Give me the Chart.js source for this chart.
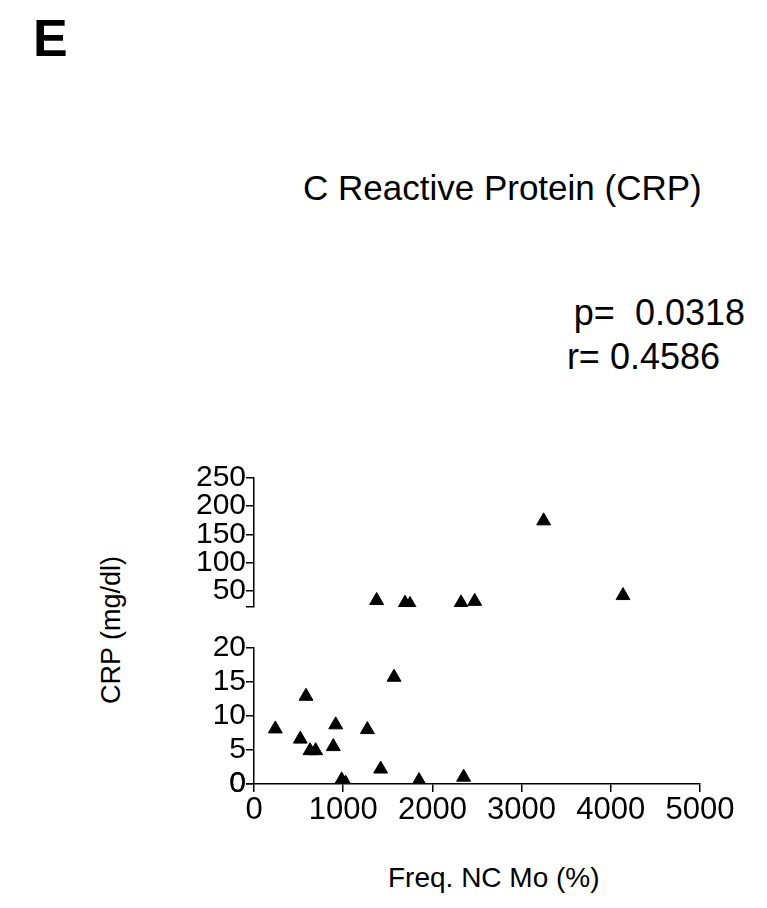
<!DOCTYPE html>
<html><head><meta charset="utf-8">
<script src="https://cdn.jsdelivr.net/npm/chart.js@4"></script>
<style>
body{margin:0;width:767px;height:908px;position:relative;background:#fff;font-family:"Liberation Sans",Arial,sans-serif;color:#000;overflow:hidden}
.t{position:absolute;white-space:nowrap}
.box{position:absolute;left:0;width:767px}
</style></head><body>
<div class="t" style="left:33px;top:8px;font-size:52px;font-weight:bold">E</div>
<div class="t" style="left:303px;top:168px;font-size:35px">C Reactive Protein (CRP)</div>
<div class="t" style="right:22px;top:292px;font-size:36px">p=&nbsp; 0.0318</div>
<div class="t" style="right:47px;top:336px;font-size:36px">r= 0.4586</div>
<div class="t" style="left:111px;top:630px;font-size:27px;transform:translate(-50%,-50%) rotate(-90deg)">CRP (mg/dl)</div>
<div class="t" style="left:388px;top:862px;font-size:28px">Freq. NC Mo (%)</div>
<div class="box" style="top:460px;height:165px"><canvas id="up"></canvas></div>
<div class="box" style="top:630px;height:270px"><canvas id="lo"></canvas></div>
<script>
// lower segment (0-20 mg/dl)
const lowX = [239, 519, 583, 628, 691, 889, 916, 983, 1028, 1271, 1420, 1570, 1850, 2350];
const lowY = [8.1, 6.6, 12.9, 4.9, 4.9, 5.5, 8.7, 0.6, 0.1, 8.0, 2.2, 15.7, 0.5, 1.0];
// upper segment (> 20 mg/dl)
const highX = [1375, 1693, 1749, 2321, 2474, 3247, 4137];
const highY = [32.6, 27.7, 25.5, 28.3, 31.0, 173.9, 41.3];
const upperTicks = [50, 100, 150, 200, 250];
const lowerTicks = [0, 5, 10, 15, 20];
const xTicks = [0, 1000, 2000, 3000, 4000, 5000];

Chart.defaults.font.family = 'Liberation Sans';
const pts = (xs, ys) => xs.map((x, i) => ({ x: x, y: ys[i] }));
const ds = (d) => ({ data: d, pointStyle: 'triangle', pointRadius: 8, backgroundColor: '#000', borderColor: '#000', showLine: false });
const yAxis = (min, max, ticks) => ({
  min: min, max: max,
  afterFit: s => { s.width = 254; },
  afterBuildTicks: s => { s.ticks = [min].concat(ticks).map(v => ({ value: v })); },
  border: { color: '#000', width: 1.5 },
  grid: { drawOnChartArea: false, color: '#000', tickLength: 8, lineWidth: 1.5 },
  ticks: { color: '#000', font: { size: 30 }, autoSkip: false, padding: 0, callback: v => ticks.includes(v) ? String(v) : '' }
});
const xAxis = (show) => ({
  type: 'linear', min: 0, max: 5000, display: show,
  afterFit: s => { s.height = show ? 116 : 0; },
  afterBuildTicks: s => { s.ticks = xTicks.map(v => ({ value: v })); },
  border: { color: '#000', width: 1.5 },
  grid: { drawOnChartArea: false, color: '#000', tickLength: 8, lineWidth: 1.5 },
  ticks: { color: '#000', font: { size: 31 }, autoSkip: false, maxRotation: 0, padding: 0, callback: v => String(v) }
});
const common = {
  responsive: true, maintainAspectRatio: false, animation: false,
  plugins: { legend: { display: false }, tooltip: { enabled: false } }
};

new Chart(document.getElementById('up'), {
  type: 'scatter',
  data: { datasets: [ds(pts(highX, highY))] },
  options: Object.assign({}, common, {
    layout: { padding: { top: 17, bottom: 7, left: 0, right: 67 } },
    scales: { x: xAxis(false), y: yAxis(21, 250, upperTicks) }
  })
});
new Chart(document.getElementById('lo'), {
  type: 'scatter',
  data: { datasets: [ds(pts(lowX, lowY))] },
  options: Object.assign({}, common, {
    layout: { padding: { top: 14, bottom: 0, left: 0, right: 67 } },
    scales: { x: xAxis(true), y: yAxis(0, 20, lowerTicks) }
  })
});
</script>
</body></html>
